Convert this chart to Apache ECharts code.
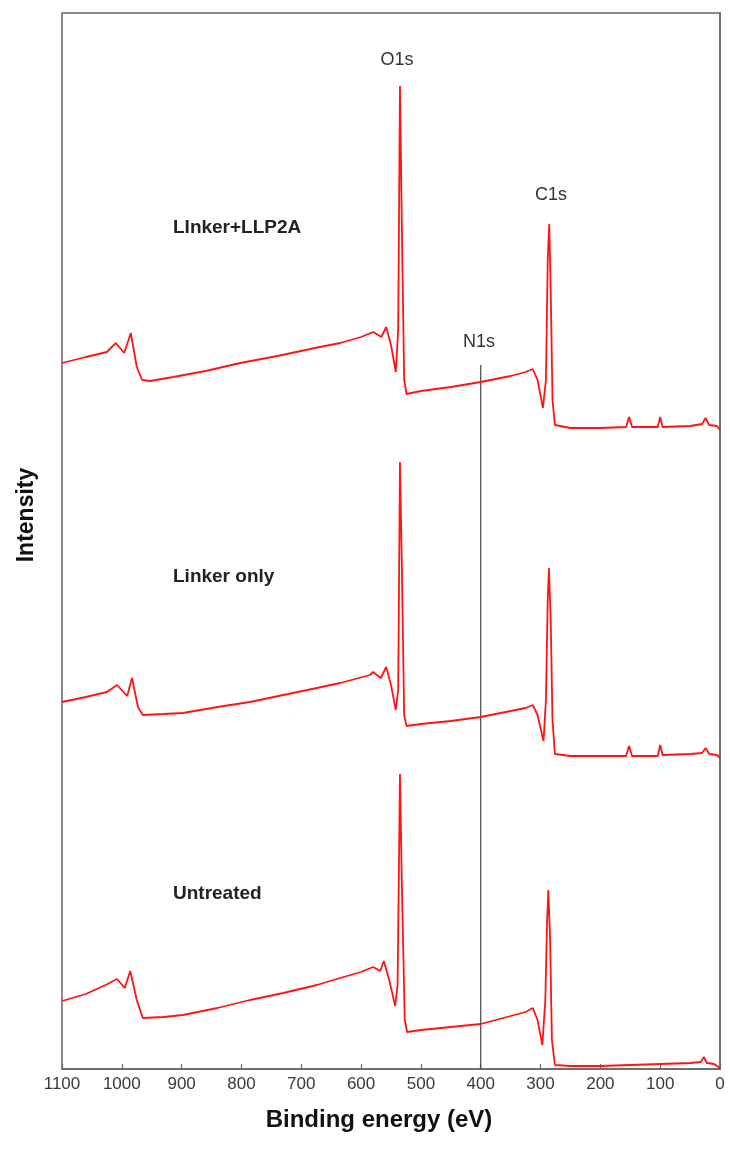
<!DOCTYPE html>
<html>
<head>
<meta charset="utf-8">
<script src="https://cdn.jsdelivr.net/npm/echarts@6/dist/echarts.min.js"></script>
<style>
html,body{margin:0;padding:0;background:#fff;}
#chart{width:730px;height:1149px;}
</style>
</head>
<body>
<div id="chart"></div>
<script>
// Binding energy (eV), intensity (arbitrary units, stacked offsets as in the figure)
const linkerLLP2A = [
  [1100,706],[1060,712],[1025,717],[1010,726],[996,716],[985,736],[975,702],[966,689],[953,688],
  [914,692],[860,698],[802,706],[740,713],[669,722],[635,726],[600,732],[580,737],[566,732],
  [558,742],[550,724],[542,697],[538,739],[535,983],[532,849],[528,689],[524,675],[500,678],
  [450,682],[400,687],[350,693],[325,697],[313,700],[305,689],[296,661],[291,689],[288,809],
  [285.5,845],[283,779],[280,669],[276,644],[250,641],[200,641],[157,642],[152,652],[147,642],
  [104,642],[100,652],[96,642],[50,643],[30,645],[24,651],[18,644],[5,643],[0,639]
];
const linkerOnly = [
  [1100,367],[1060,372],[1025,377],[1008,384],[991,373],[983,391],[973,362],[965,354],[930,355],
  [898,356],[840,362],[786,367],[730,374],[674,381],[635,386],[585,394],[580,397],[567,391],
  [558,402],[550,384],[542,359],[538,379],[535,607],[532,509],[528,354],[524,343],[500,345],
  [450,348],[400,352],[350,358],[325,361],[313,364],[305,354],[295,328],[291,369],[288,469],
  [286,501],[283,449],[280,349],[276,315],[250,313],[200,313],[157,313],[152,323],[147,313],
  [104,313],[100,324],[96,314],[50,315],[30,316],[24,321],[18,315],[5,314],[0,311]
];
const untreated = [
  [1100,68],[1060,75],[1027,84],[1008,90],[995,81],[986,98],[975,69],[965,51],[930,52],
  [898,54],[840,61],[786,69],[730,76],[674,84],[635,91],[600,97],[580,102],[568,98],
  [562,108],[553,89],[543,63],[539,84],[535,295],[532,189],[527,49],[523,37],[500,39],
  [450,42],[400,45],[350,53],[325,57],[313,61],[305,49],[297,24],[292,69],[289,149],
  [287,179],[284,129],[281,29],[276,4],[250,3],[200,3],[150,4],[100,5],[50,6],
  [32,7],[27,12],[22,6],[10,5],[0,1]
];
const n1sMarker = [[400,0],[400,704]];
const xTicks = [0,100,200,300,400,500,600,700,800,900,1000,1100];
const peakLabels = [['O1s',535],['C1s',285],['N1s',400]];
const sampleLabels = ['LInker+LLP2A','Linker only','Untreated'];

const chart = echarts.init(document.getElementById('chart'), null, {renderer:'canvas'});
const red = '#ff1414';
const fontFam = '"Liberation Sans", Arial, Helvetica, sans-serif';
function spec(name, data){
  return {name, type:'line', data, showSymbol:false, symbol:'none', smooth:false,
    lineStyle:{color:red, width:1.8}, itemStyle:{color:red}, z:3, silent:true};
}
chart.setOption({
  animation:false,
  backgroundColor:'#fff',
  grid:{left:62, right:10, top:13, bottom:80, show:true, borderColor:'#666', borderWidth:1.5, backgroundColor:'transparent'},
  xAxis:{type:'value', min:0, max:1100, interval:100, inverse:true,
    axisLine:{show:true, lineStyle:{color:'#666', width:1.5}},
    axisTick:{show:true, inside:true, length:5, lineStyle:{color:'#666', width:1.2}},
    axisLabel:{show:true, color:'#3a3a3a', fontSize:17, fontFamily:fontFam, margin:7,
      formatter:v => xTicks.includes(v) ? String(v) : ''},
    splitLine:{show:false}},
  yAxis:{type:'value', min:0, max:1056,
    axisLine:{show:true, lineStyle:{color:'#666', width:1.5}},
    axisTick:{show:false}, axisLabel:{show:false}, splitLine:{show:false}},
  series:[
    spec(sampleLabels[0], linkerLLP2A),
    spec(sampleLabels[1], linkerOnly),
    spec(sampleLabels[2], untreated),
    {name:'N1s line', type:'line', data:n1sMarker, showSymbol:false, symbol:'none',
      lineStyle:{color:'#444', width:1.2}, z:2, silent:true}
  ],
  graphic:[
    {type:'text', left:'center', x:0, style:{}, invisible:true},
    {type:'text', x:397, y:60, style:{text:peakLabels[0][0], fill:'#333', font:'18px '+fontFam, textAlign:'center', textVerticalAlign:'middle'}},
    {type:'text', x:551, y:195, style:{text:peakLabels[1][0], fill:'#333', font:'18px '+fontFam, textAlign:'center', textVerticalAlign:'middle'}},
    {type:'text', x:479, y:342, style:{text:peakLabels[2][0], fill:'#333', font:'18px '+fontFam, textAlign:'center', textVerticalAlign:'middle'}},
    {type:'text', x:173, y:228, style:{text:sampleLabels[0], fill:'#222', font:'bold 19px '+fontFam, textAlign:'left', textVerticalAlign:'middle'}},
    {type:'text', x:173, y:577, style:{text:sampleLabels[1], fill:'#222', font:'bold 19px '+fontFam, textAlign:'left', textVerticalAlign:'middle'}},
    {type:'text', x:173, y:894, style:{text:sampleLabels[2], fill:'#222', font:'bold 19px '+fontFam, textAlign:'left', textVerticalAlign:'middle'}},
    {type:'text', x:379, y:1120, style:{text:'Binding energy (eV)', fill:'#111', font:'bold 24px '+fontFam, textAlign:'center', textVerticalAlign:'middle'}},
    {type:'text', x:27, y:515, rotation:Math.PI/2, style:{text:'Intensity', fill:'#111', font:'bold 23px '+fontFam, textAlign:'center', textVerticalAlign:'middle'}}
  ]
});
</script>
</body>
</html>
